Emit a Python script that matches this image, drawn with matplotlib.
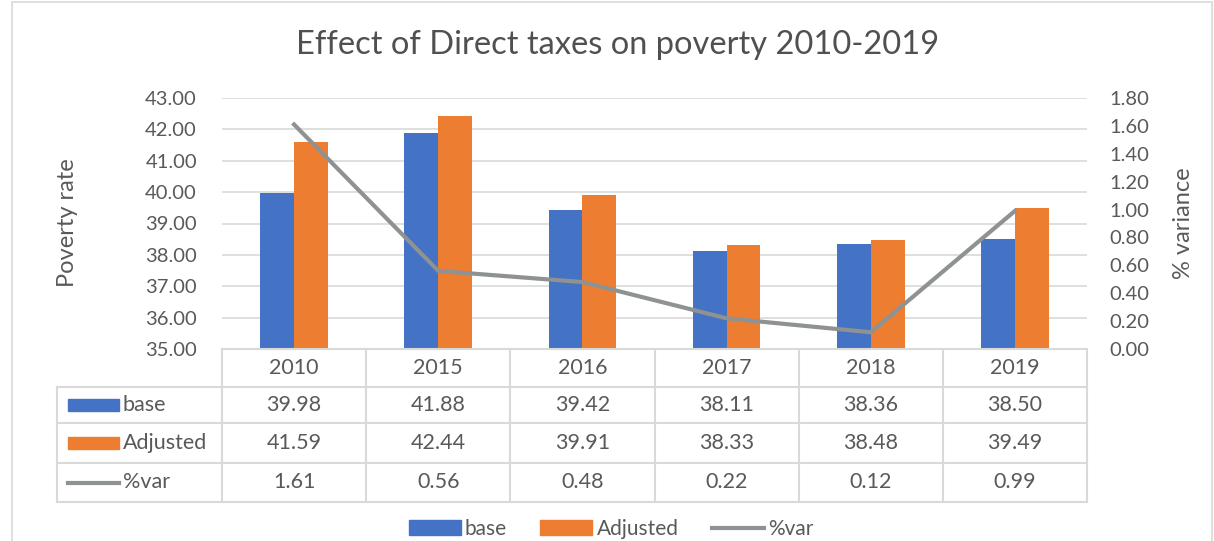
import numpy as np
import matplotlib
matplotlib.use("Agg")
import matplotlib.pyplot as plt
from matplotlib.patches import Rectangle
from matplotlib.lines import Line2D

plt.rcParams['font.family'] = ['Lato', 'DejaVu Sans']

# data
years = ["2010", "2015", "2016", "2017", "2018", "2019"]
base = [39.98, 41.88, 39.42, 38.11, 38.36, 38.50]
adjusted = [41.59, 42.44, 39.91, 38.33, 38.48, 39.49]
pct_var = [1.61, 0.56, 0.48, 0.22, 0.12, 0.99]

c_base = "#4472C4"
c_adj = "#ED7D31"
c_var = "#8E9293"
c_txt = "#595959"
c_grid = "#D9D9D9"

W, H = 1214, 541
fig = plt.figure(figsize=(W / 100, H / 100), dpi=100)

def fx(px):
    return px / W

def fy(py):
    return 1 - py / H

# plot area in pixels
L, R, T, B = 222, 1087, 98, 349
ax = fig.add_axes([fx(L), fy(B), fx(R) - fx(L), fy(T) - fy(B)])
ax2 = ax.twinx()

x = np.arange(len(years))
bw = 0.235
ax.bar(x - bw / 2, base, bw, color=c_base, zorder=2)
ax.bar(x + bw / 2, adjusted, bw, color=c_adj, zorder=2)
ax.set_ylim(35, 43)
ax.set_xlim(-0.5, len(years) - 0.5)
ax.set_yticks(np.arange(35, 43.01, 1))
ax.set_yticklabels([f"{v:.2f}" for v in np.arange(35, 43.01, 1)])
ax.grid(axis="y", color=c_grid, lw=1.2, zorder=0)
ax.set_xticks([])
ax.tick_params(axis="y", length=0, pad=18, labelsize=14.5, labelcolor=c_txt)

ax2.plot(x, pct_var, color=c_var, lw=3, zorder=5)
ax2.set_ylim(0, 1.8)
ax2.set_yticks(np.arange(0, 1.81, 0.2))
ax2.set_yticklabels([f"{v:.2f}" for v in np.arange(0, 1.81, 0.2)])
ax2.tick_params(axis="y", length=0, pad=16, labelsize=14.5, labelcolor=c_txt)

for a in (ax, ax2):
    for s in a.spines.values():
        s.set_visible(False)

fig.text(fx(68), fy(223), "Poverty rate", rotation=90, ha="center", va="center",
         fontsize=17, color=c_txt)
fig.text(fx(1183), fy(223), "% variance", rotation=90, ha="center", va="center",
         fontsize=17, color=c_txt)
fig.text(fx(618), fy(45), "Effect of Direct taxes on poverty 2010-2019",
         ha="center", va="center", fontsize=23.5, color="#505050")

# data table below the plot
col_w = (R - L) / len(years)
tl = 57
rows_y = [349, 387, 423, 463, 502]
lkw = dict(color=c_grid, lw=1.5, transform=fig.transFigure)
fig.add_artist(Line2D([fx(L), fx(R)], [fy(rows_y[0])] * 2, **lkw))
for yy in rows_y[1:]:
    fig.add_artist(Line2D([fx(tl), fx(R)], [fy(yy)] * 2, **lkw))
fig.add_artist(Line2D([fx(tl)] * 2, [fy(rows_y[1]), fy(rows_y[-1])], **lkw))
for i in range(len(years) + 1):
    xx = L + i * col_w
    fig.add_artist(Line2D([fx(xx)] * 2, [fy(rows_y[0]), fy(rows_y[-1])], **lkw))

row_vals = [years,
            [f"{v:.2f}" for v in base],
            [f"{v:.2f}" for v in adjusted],
            [f"{v:.2f}" for v in pct_var]]
for r, vals in enumerate(row_vals):
    yc = (rows_y[r] + rows_y[r + 1]) / 2
    for i, v in enumerate(vals):
        fig.text(fx(L + (i + 0.5) * col_w), fy(yc), v, ha="center", va="center",
                 fontsize=15.5, color=c_txt)

names = ["base", "Adjusted", "%var"]
for r, name in enumerate(names):
    yc = (rows_y[r + 1] + rows_y[r + 2]) / 2
    if r < 2:
        fig.add_artist(Rectangle((fx(68), fy(yc + 6)), fx(119) - fx(68), fy(yc - 6) - fy(yc + 6),
                                 color=[c_base, c_adj][r], transform=fig.transFigure))
    else:
        fig.add_artist(Line2D([fx(68), fx(119)], [fy(yc)] * 2, color=c_var, lw=3,
                              transform=fig.transFigure))
    fig.text(fx(123), fy(yc), name, ha="left", va="center", fontsize=15.5, color=c_txt)

# legend at the bottom
handles = [Rectangle((0, 0), 1, 1, color=c_base), Rectangle((0, 0), 1, 1, color=c_adj),
           Line2D([0], [0], color=c_var, lw=3)]
fig.legend(handles, names, loc="center", bbox_to_anchor=(fx(611), fy(529)), ncol=3,
           frameon=False, fontsize=15, labelcolor=c_txt, handlelength=2.5,
           handleheight=0.7, columnspacing=1.6, handletextpad=0.2)

# chart frame
fig.add_artist(Rectangle((fx(12), fy(545)), fx(1212) - fx(12), fy(2) - fy(545), fill=False,
                         edgecolor=c_grid, lw=1.2, transform=fig.transFigure))

fig.savefig("out.png", dpi=100)
